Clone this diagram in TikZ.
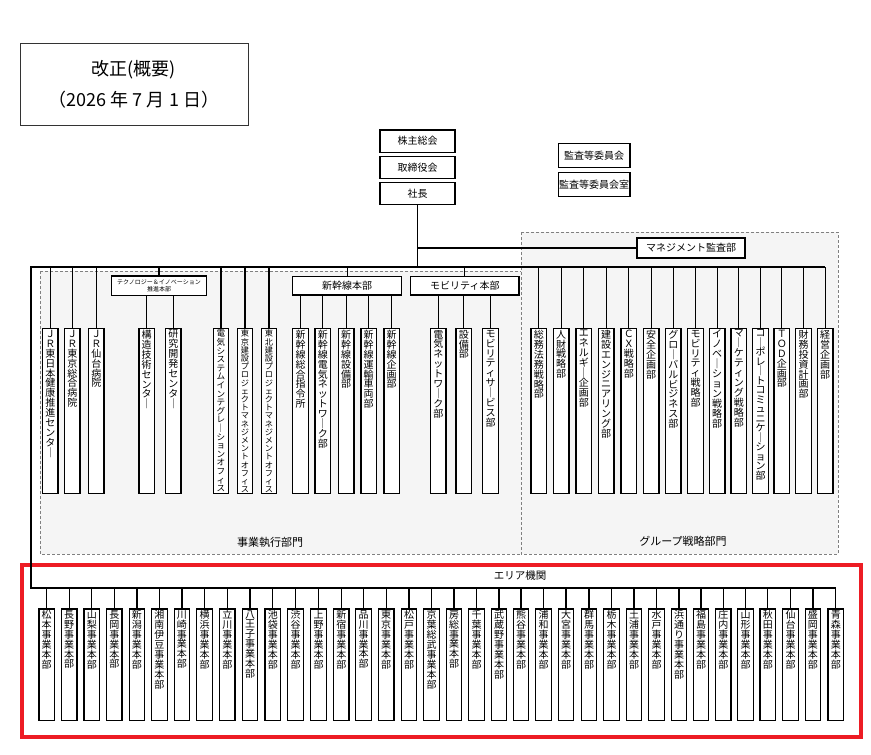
\documentclass[tikz,border=0pt]{standalone}
\usepackage{fontspec}
\setmainfont{Noto Sans CJK JP}
\usetikzlibrary{positioning}
\definecolor{framered}{RGB}{237,28,36}
% vertical text: one character per line
\def\colh{165pt}
\def\vtend{\vtend}
\def\vtgo#1{\ifx#1\vtend\else\hbox to 15pt{\hss#1\hss}\expandafter\vtgo\fi}
\newcommand\vt[2][9.9pt]{\vbox to \colh{\baselineskip=#1\lineskiplimit=-100pt
  \vskip1.5pt\vtgo#2\vtend\vss}}
\tikzset{%
  ln/.style = {line width=1.3pt},
  hb/.style = {rectangle,draw,line width=1.2pt,fill=white,inner sep=0pt,
        font=\fontsize{10}{12}\selectfont},
  topbox/.style = {hb,minimum width=75pt,minimum height=22.4pt},
  deptcol/.style = {rectangle,draw,line width=1.2pt,fill=white,inner sep=0pt,
        minimum width=15.5pt,anchor=north,font=\fontsize{10}{10}\selectfont,
        /utils/exec={\gdef\colh{165pt}}},
  areacol/.style = {deptcol,/utils/exec={\gdef\colh{111.5pt}}},
  zone/.style = {draw=gray,densely dashed,line width=0.6pt,fill=black!4},
  zonelbl/.style = {font=\fontsize{11}{13}\selectfont}
}
\begin{document}
\begin{tikzpicture}[x=1pt,y=-1pt]
\useasboundingbox (0,0) rectangle (871,755);

% title
\node[draw=black!80,line width=0.8pt,minimum width=228pt,minimum height=82pt,
    align=center,font=\fontsize{18}{31}\selectfont] (title) at (134,84)
    {改正(概要)\\（2026 年 7 月 1 日）};

% zones
\draw[zone] (40,271) rectangle (521,554);
\draw[zone] (521,232) rectangle (838,554);
\node[zonelbl] (zone1lbl) at (270,542) {事業執行部門};
\node[zonelbl] (zone2lbl) at (683,541) {グループ戦略部門};
\draw[framered,line width=4pt] (22,564.7) rectangle (861.3,737);
\node[font=\fontsize{10.5}{12}\selectfont] (arealbl) at (520,576) {エリア機関};

% top
\node[topbox] (kabu) at (417.5,141.2) {株主総会};
\node[topbox] (tori) [below=2.6pt of kabu] {取締役会};
\node[topbox] (shacho) [below=2.6pt of tori] {社長};
\node[hb,minimum width=71.7pt,minimum height=24.4pt] (kansa) at (594.2,155.5) {監査等委員会};
\node[hb,minimum width=71.7pt,minimum height=24pt] (kansashitsu) [below=3.3pt of kansa] {監査等委員会室};
\node[hb,minimum width=108pt,minimum height=20pt] (mgmt) at (691,248) {マネジメント監査部};

\coordinate (lt) at (31,267);
\coordinate (lb) at (31,588);

% sub headquarters
\node[hb,minimum width=94.6pt,minimum height=19.3pt,align=center,
    font=\fontsize{6}{7.5}\selectfont] (techhq) at (159,285.6)
    {テクノロジー＆イノベーション\\推進本部};
\node[hb,minimum width=109pt,minimum height=18.3pt] (shinhq) at (347.2,285.8) {新幹線本部};
\node[hb,minimum width=108.3pt,minimum height=18.3pt] (mobhq) at (464.8,285.8) {モビリティ本部};

% business execution
\node[deptcol] (jr1) at (50.3,328) {\vt{ＪＲ東日本健康推進センタ｜}};
\node[deptcol] (jr2) at (72.3,328) {\vt{ＪＲ東京総合病院}};
\node[deptcol] (jr3) at (96.3,328) {\vt{ＪＲ仙台病院}};
\node[deptcol] (tech1) at (146.7,328) {\vt{構造技術センタ｜}};
\node[deptcol] (tech2) at (173.3,328) {\vt{研究開発センタ｜}};
\node[deptcol,font=\fontsize{8.6}{8.6}\selectfont] (off1) at (221,328)
    {\vt[8.6pt]{電気システムインテグレ｜ションオフィス}};
\node[deptcol,font=\fontsize{8.2}{8.2}\selectfont] (off2) at (245,328)
    {\vt[8.2pt]{東京建設プロジェクトマネジメントオフィス}};
\node[deptcol,font=\fontsize{8.2}{8.2}\selectfont] (off3) at (269,328)
    {\vt[8.2pt]{東北建設プロジェクトマネジメントオフィス}};
\node[deptcol] (shin1) at (300.5,328) {\vt{新幹線総合指令所}};
\node[deptcol] (shin2) at (322.8,328) {\vt{新幹線電気ネットワ｜ク部}};
\node[deptcol] (shin3) at (346.2,328) {\vt{新幹線設備部}};
\node[deptcol] (shin4) at (368.7,328) {\vt{新幹線運輸車両部}};
\node[deptcol] (shin5) at (391.7,328) {\vt{新幹線企画部}};
\node[deptcol] (mob1) at (438.3,328) {\vt{電気ネットワ｜ク部}};
\node[deptcol] (mob2) at (463.8,328) {\vt{設備部}};
\node[deptcol] (mob3) at (490.5,328) {\vt{モビリティサ｜ビス部}};

% group strategy
\node[deptcol] (gs1) at (538.8,328) {\vt{総務法務戦略部}};
\node[deptcol] (gs2) at (561.2,328) {\vt{人財戦略部}};
\node[deptcol] (gs3) at (583.8,328) {\vt{エネルギ｜企画部}};
\node[deptcol] (gs4) at (606.2,328) {\vt{建設エンジニアリング部}};
\node[deptcol] (gs5) at (628.8,328) {\vt{ＣＸ戦略部}};
\node[deptcol] (gs6) at (651.2,328) {\vt{安全企画部}};
\node[deptcol] (gs7) at (673.3,328) {\vt{グロ｜バルビジネス部}};
\node[deptcol] (gs8) at (695.5,328) {\vt{モビリティ戦略部}};
\node[deptcol] (gs9) at (717.2,328) {\vt{イノベ｜ション戦略部}};
\node[deptcol] (gs10) at (738.8,328) {\vt{マ｜ケティング戦略部}};
\node[deptcol] (gs11) at (760.5,328) {\vt[9.5pt]{コ｜ポレ｜トコミュニケ｜ション部}};
\node[deptcol] (gs12) at (781.8,328) {\vt{ＴＯＤ企画部}};
\node[deptcol] (gs13) at (803.5,328) {\vt{財務投資計画部}};
\node[deptcol] (gs14) at (825.2,328) {\vt{経営企画部}};

% area
\node[areacol] (a1) at (46.7,608.3) {\vt{松本事業本部}};
\node[areacol] (a2) at (69.2,608.3) {\vt{長野事業本部}};
\node[areacol] (a3) at (91.8,608.3) {\vt{山梨事業本部}};
\node[areacol] (a4) at (114.3,608.3) {\vt{長岡事業本部}};
\node[areacol] (a5) at (136.9,608.3) {\vt{新潟事業本部}};
\node[areacol] (a6) at (159.4,608.3) {\vt{湘南伊豆事業本部}};
\node[areacol] (a7) at (181.9,608.3) {\vt{川崎事業本部}};
\node[areacol] (a8) at (204.5,608.3) {\vt{横浜事業本部}};
\node[areacol] (a9) at (227.3,608.3) {\vt{立川事業本部}};
\node[areacol] (a10) at (250,608.3) {\vt{八王子事業本部}};
\node[areacol] (a11) at (272.8,608.3) {\vt{池袋事業本部}};
\node[areacol] (a12) at (295.6,608.3) {\vt{渋谷事業本部}};
\node[areacol] (a13) at (318.6,608.3) {\vt{上野事業本部}};
\node[areacol] (a14) at (341.3,608.3) {\vt{新宿事業本部}};
\node[areacol] (a15) at (363.6,608.3) {\vt{品川事業本部}};
\node[areacol] (a16) at (386.2,608.3) {\vt{東京事業本部}};
\node[areacol] (a17) at (409,608.3) {\vt{松戸事業本部}};
\node[areacol] (a18) at (431.5,608.3) {\vt{京葉総武事業本部}};
\node[areacol] (a19) at (454,608.3) {\vt{房総事業本部}};
\node[areacol] (a20) at (476.5,608.3) {\vt{千葉事業本部}};
\node[areacol] (a21) at (499,608.3) {\vt{武蔵野事業本部}};
\node[areacol] (a22) at (521,608.3) {\vt{熊谷事業本部}};
\node[areacol] (a23) at (543.5,608.3) {\vt{浦和事業本部}};
\node[areacol] (a24) at (566,608.3) {\vt{大宮事業本部}};
\node[areacol] (a25) at (589,608.3) {\vt{群馬事業本部}};
\node[areacol] (a26) at (611.5,608.3) {\vt{栃木事業本部}};
\node[areacol] (a27) at (634,608.3) {\vt{土浦事業本部}};
\node[areacol] (a28) at (656.5,608.3) {\vt{水戸事業本部}};
\node[areacol] (a29) at (679,608.3) {\vt{浜通り事業本部}};
\node[areacol] (a30) at (701,608.3) {\vt{福島事業本部}};
\node[areacol] (a31) at (723.3,608.3) {\vt{庄内事業本部}};
\node[areacol] (a32) at (745.6,608.3) {\vt{山形事業本部}};
\node[areacol] (a33) at (767.8,608.3) {\vt{秋田事業本部}};
\node[areacol] (a34) at (790.6,608.3) {\vt{仙台事業本部}};
\node[areacol] (a35) at (812.9,608.3) {\vt{盛岡事業本部}};
\node[areacol] (a36) at (835.8,608.3) {\vt{青森事業本部}};

% buses
\draw[ln] (a36.north |- lb) -- (lb) -- (lt) -- (gs14.north |- lt);
\draw[ln] (shacho.south) -- (shacho.south |- lt);
\draw[ln] (shacho.south |- mgmt.west) -- (mgmt.west);

% connectors
\draw[ln] (jr1.north) -- (jr1.north |- lt) (jr2.north) -- (jr2.north |- lt)
    (jr3.north) -- (jr3.north |- lt) (techhq.north) -- (techhq.north |- lt)
    (off1.north) -- (off1.north |- lt) (off2.north) -- (off2.north |- lt)
    (off3.north) -- (off3.north |- lt) (shinhq.north) -- (shinhq.north |- lt)
    (mobhq.north) -- (mobhq.north |- lt);
\draw[ln] (tech1.north) -- (tech1.north |- techhq.south)
    (tech2.north) -- (tech2.north |- techhq.south);
\draw[ln] (shin1.north) -- (shin1.north |- shinhq.south)
    (shin2.north) -- (shin2.north |- shinhq.south)
    (shin3.north) -- (shin3.north |- shinhq.south)
    (shin4.north) -- (shin4.north |- shinhq.south)
    (shin5.north) -- (shin5.north |- shinhq.south);
\draw[ln] (mob1.north) -- (mob1.north |- mobhq.south)
    (mob2.north) -- (mob2.north |- mobhq.south)
    (mob3.north) -- (mob3.north |- mobhq.south);
\draw[ln] (gs1.north) -- (gs1.north |- lt) (gs2.north) -- (gs2.north |- lt)
    (gs3.north) -- (gs3.north |- lt) (gs4.north) -- (gs4.north |- lt)
    (gs5.north) -- (gs5.north |- lt) (gs6.north) -- (gs6.north |- lt)
    (gs7.north) -- (gs7.north |- lt) (gs8.north) -- (gs8.north |- lt)
    (gs9.north) -- (gs9.north |- lt) (gs10.north) -- (gs10.north |- lt)
    (gs11.north) -- (gs11.north |- lt) (gs12.north) -- (gs12.north |- lt)
    (gs13.north) -- (gs13.north |- lt) (gs14.north) -- (gs14.north |- lt);
\draw[ln] (a1.north) -- (a1.north |- lb) (a2.north) -- (a2.north |- lb)
    (a3.north) -- (a3.north |- lb) (a4.north) -- (a4.north |- lb)
    (a5.north) -- (a5.north |- lb) (a6.north) -- (a6.north |- lb)
    (a7.north) -- (a7.north |- lb) (a8.north) -- (a8.north |- lb)
    (a9.north) -- (a9.north |- lb) (a10.north) -- (a10.north |- lb)
    (a11.north) -- (a11.north |- lb) (a12.north) -- (a12.north |- lb)
    (a13.north) -- (a13.north |- lb) (a14.north) -- (a14.north |- lb)
    (a15.north) -- (a15.north |- lb) (a16.north) -- (a16.north |- lb)
    (a17.north) -- (a17.north |- lb) (a18.north) -- (a18.north |- lb)
    (a19.north) -- (a19.north |- lb) (a20.north) -- (a20.north |- lb)
    (a21.north) -- (a21.north |- lb) (a22.north) -- (a22.north |- lb)
    (a23.north) -- (a23.north |- lb) (a24.north) -- (a24.north |- lb)
    (a25.north) -- (a25.north |- lb) (a26.north) -- (a26.north |- lb)
    (a27.north) -- (a27.north |- lb) (a28.north) -- (a28.north |- lb)
    (a29.north) -- (a29.north |- lb) (a30.north) -- (a30.north |- lb)
    (a31.north) -- (a31.north |- lb) (a32.north) -- (a32.north |- lb)
    (a33.north) -- (a33.north |- lb) (a34.north) -- (a34.north |- lb)
    (a35.north) -- (a35.north |- lb) (a36.north) -- (a36.north |- lb);
\end{tikzpicture}
\end{document}
